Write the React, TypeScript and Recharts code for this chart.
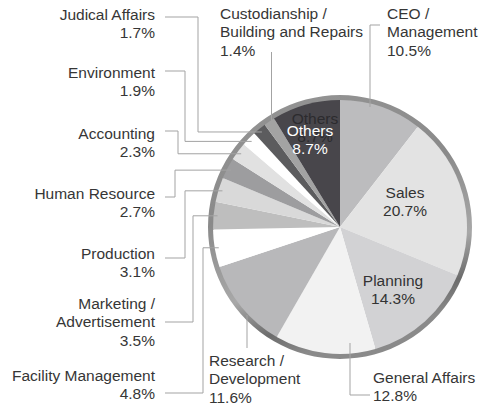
import React from "react";
import { PieChart, Pie, Cell } from "recharts";

const categories = [
  "CEO /\nManagement",
  "Sales",
  "Planning",
  "General Affairs",
  "Research /\nDevelopment",
  "Facility Management",
  "Marketing /\nAdvertisement",
  "Production",
  "Human Resource",
  "Accounting",
  "Environment",
  "Judical Affairs",
  "Custodianship /\nBuilding and Repairs",
  "Others",
];
const shares = [10.5, 20.7, 14.3, 12.8, 11.6, 4.8, 3.5, 3.1, 2.7, 2.3, 1.9, 1.7, 1.4, 8.7];
const sliceColors = [
  "#bcbcbe", "#e3e3e3", "#d2d2d4", "#f2f2f2", "#b8b8ba", "#ffffff", "#bebebe",
  "#d9d9d9", "#9d9d9f", "#e1e1e1", "#ffffff", "#5c5c5e", "#a3a3a3", "#48464b",
];

const data = categories.map((name, i) => ({ name, value: shares[i] }));

type Layout =
  | { kind: "left"; y: number; lineY: number; elbowX: number }
  | { kind: "inside"; x: number; y: number; color: string; ghost?: boolean }
  | { kind: "custom"; x: number; y: number; path: string }
  | { kind: "vert"; x: number; y: number; startY: number };

const LAYOUT: Layout[] = [
  { kind: "custom", x: 387, y: 13, path: "M380,25H370V107" },
  { kind: "inside", x: 405, y: 192, color: "#333" },
  { kind: "inside", x: 393, y: 280, color: "#333" },
  { kind: "custom", x: 373, y: 377, path: "M350,343V395H370" },
  { kind: "custom", x: 209, y: 360, path: "M247,315V348" },
  { kind: "left", y: 375, lineY: 393, elbowX: 203 },
  { kind: "left", y: 303, lineY: 322, elbowX: 193 },
  { kind: "left", y: 253, lineY: 258, elbowX: 185 },
  { kind: "left", y: 193, lineY: 197, elbowX: 175 },
  { kind: "left", y: 133, lineY: 131, elbowX: 178 },
  { kind: "left", y: 72, lineY: 71, elbowX: 185 },
  { kind: "left", y: 14, lineY: 17, elbowX: 198 },
  { kind: "vert", x: 220, y: 13, startY: 52 },
  { kind: "inside", x: 310, y: 130, color: "#ffffff", ghost: true },
];

const FONT = "'Liberation Sans', Arial, Helvetica, sans-serif";
const FS = 15.5;
const LH = 18.6;
const LEADER = "#a3a3a3";
const TEXT = "#363636";
const RAD = Math.PI / 180;

function lines(i: number): string[] {
  return [...categories[i].split("\n"), `${shares[i].toFixed(1)}%`];
}

function TextBlock(props: { x: number; y: number; anchor: "start" | "middle" | "end"; ls: string[]; fill: string }) {
  const { x, y, anchor, ls, fill } = props;
  return (
    <text x={x} y={y + 5.5} textAnchor={anchor} fontFamily={FONT} fontSize={FS} fill={fill}>
      {ls.map((l, k) => (
        <tspan key={k} x={x} dy={k === 0 ? 0 : LH}>
          {l}
        </tspan>
      ))}
    </text>
  );
}

const renderLabel = (p: any) => {
  const i: number = p.index;
  const lay = LAYOUT[i];
  const cx: number = p.cx;
  const cy: number = p.cy;
  const ang: number = p.midAngle;
  const R = 123;
  const ex = cx + R * Math.cos(-ang * RAD);
  const ey = cy + R * Math.sin(-ang * RAD);
  const ls = lines(i);
  if (lay.kind === "left") {
    return (
      <g>
        <path d={`M165,${lay.lineY}H${lay.elbowX}V${ey}H${ex}`} stroke={LEADER} fill="none" strokeWidth={1} />
        <TextBlock x={155} y={lay.y} anchor="end" ls={ls} fill={TEXT} />
      </g>
    );
  }
  if (lay.kind === "vert") {
    return (
      <g>
        <path d={`M${ex},${lay.startY}V${ey}`} stroke={LEADER} fill="none" strokeWidth={1} />
        <TextBlock x={lay.x} y={lay.y} anchor="start" ls={ls} fill={TEXT} />
      </g>
    );
  }
  if (lay.kind === "custom") {
    return (
      <g>
        <path d={lay.path} stroke={LEADER} fill="none" strokeWidth={1} />
        <TextBlock x={lay.x} y={lay.y} anchor="start" ls={ls} fill={TEXT} />
      </g>
    );
  }
  return (
    <g>
      {lay.ghost && <TextBlock x={lay.x + 5} y={lay.y - 12} anchor="middle" ls={ls} fill="#2c2b2e" />}
      <TextBlock x={lay.x} y={lay.y} anchor="middle" ls={ls} fill={lay.color} />
    </g>
  );
};

export default function App() {
  return (
    <div style={{ position: "absolute", left: 0, top: 0, width: 479, height: 407, background: "#fff" }}>
      <PieChart width={479} height={407} margin={{ top: 0, right: 0, bottom: 0, left: 0 }}>
        <defs>
          <linearGradient id="ringGrad" x1="0" y1="0" x2="0.3" y2="1">
            <stop offset="0%" stopColor="#959595" />
            <stop offset="45%" stopColor="#8a8a8a" />
            <stop offset="75%" stopColor="#a8a8a8" />
            <stop offset="90%" stopColor="#6c6c6c" />
            <stop offset="100%" stopColor="#8a8a8a" />
          </linearGradient>
        </defs>
        <Pie
          data={[{ name: "ring", value: 1 }]}
          dataKey="value"
          cx={340}
          cy={227}
          innerRadius={126}
          outerRadius={132}
          startAngle={90}
          endAngle={-270}
          stroke="none"
          isAnimationActive={false}
          label={false}
          labelLine={false}
        >
          <Cell fill="url(#ringGrad)" />
        </Pie>
        <Pie
          data={data}
          dataKey="value"
          nameKey="name"
          cx={340}
          cy={227}
          innerRadius={0}
          outerRadius={127}
          startAngle={90}
          endAngle={-270}
          stroke="none"
          isAnimationActive={false}
          label={renderLabel}
          labelLine={false}
        >
          {data.map((d, i) => (
            <Cell key={d.name} fill={sliceColors[i]} />
          ))}
        </Pie>
      </PieChart>
    </div>
  );
}
